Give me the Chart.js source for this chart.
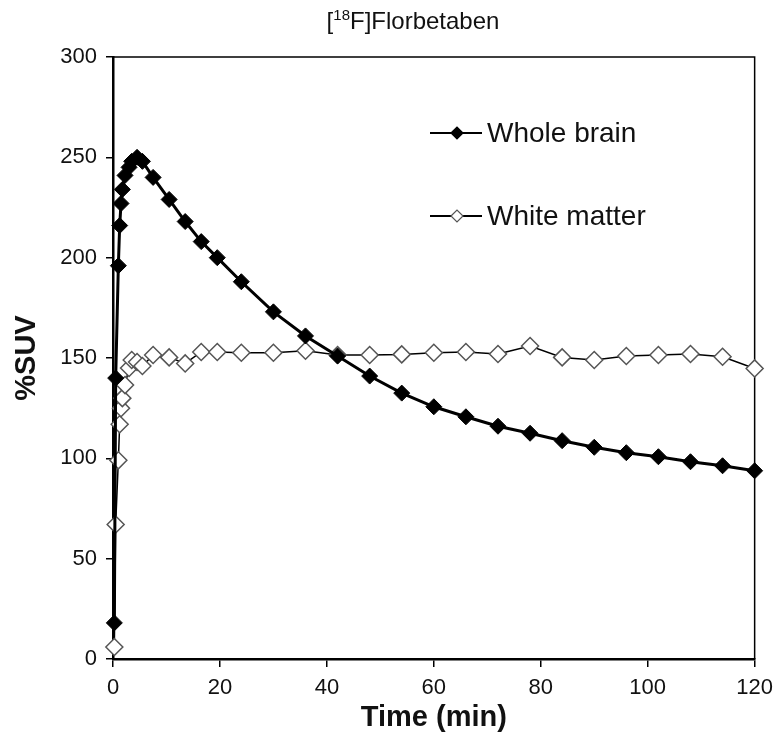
<!DOCTYPE html>
<html>
<head>
<meta charset="utf-8">
<title>[18F]Florbetaben</title>
<script src="https://cdn.jsdelivr.net/npm/chart.js@4.4.1/dist/chart.umd.min.js"></script>
<style>
  html, body { margin: 0; padding: 0; background: #fff; }
  #wrap { width: 781px; height: 747px; position: relative; }
</style>
</head>
<body>
<div id="wrap"><canvas id="chart-suv"></canvas></div>
<script>
// frame mid times (min)
const times = [0.25, 0.5, 1.0, 1.25, 1.5, 1.75, 2.25, 3.0, 3.5, 4.5, 5.5, 7.5, 10.5, 13.5, 16.5, 19.5,
    24, 30, 36, 42, 48, 54, 60, 66, 72, 78, 84, 90, 96, 102, 108, 114, 120];

const wholeBrain = [18, 140, 196, 216, 227, 234, 241, 245, 248, 250, 248, 240, 229, 218, 208, 200,
    188, 173, 161, 151, 141, 132.5, 125.7, 120.7, 116, 112.5, 108.8, 105.5, 102.8, 100.8, 98.3, 96.3, 93.8];

const whiteMatter = [6, 67, 99, 117, 125, 130, 136.5, 145, 149, 148, 146, 151.5, 150.3, 147.3, 153, 153,
    152.6, 152.6, 153.6, 151.5, 151.5, 151.8, 152.6, 153, 152, 156, 150.3, 149, 151, 151.5, 152, 150.6, 144.8];

const seriesNames = ['Whole brain', 'White matter'];
const xTicks = [0, 20, 40, 60, 80, 100, 120];
const yTicks = [0, 50, 100, 150, 200, 250, 300];

const FONT = "'Liberation Sans', Arial, sans-serif";

function toPoints(values) {
    return values.map((v, i) => ({ x: times[i], y: v }));
}

function diamond(ctx, x, y, r) {
    ctx.beginPath();
    ctx.moveTo(x - r, y);
    ctx.lineTo(x, y - r);
    ctx.lineTo(x + r, y);
    ctx.lineTo(x, y + r);
    ctx.closePath();
}

// frame, title and in-plot legend
const decorations = {
    id: 'decorations',
    beforeDatasetsDraw(chart) {
        const ctx = chart.ctx;
        const a = chart.chartArea;
        ctx.save();
        // top and right frame
        ctx.strokeStyle = '#000';
        ctx.lineWidth = 1.5;
        ctx.beginPath();
        ctx.moveTo(a.left, a.top);
        ctx.lineTo(a.right, a.top);
        ctx.lineTo(a.right, a.bottom);
        ctx.stroke();
        ctx.restore();
    },
    afterDraw(chart) {
        const ctx = chart.ctx;
        ctx.save();

        // title with superscript
        ctx.fillStyle = '#111';
        ctx.textBaseline = 'alphabetic';
        const big = '24px ' + FONT, small = '15px ' + FONT;
        const parts = [['[', big, 0], ['18', small, -9], ['F]Florbetaben', big, 0]];
        let total = 0;
        parts.forEach(p => { ctx.font = p[1]; total += ctx.measureText(p[0]).width; });
        let x = 413 - total / 2;
        parts.forEach(p => {
            ctx.font = p[1];
            ctx.textAlign = 'left';
            ctx.fillText(p[0], x, 29 + p[2]);
            x += ctx.measureText(p[0]).width;
        });

        // legend
        const rows = [
            { y: 133, fill: '#000', stroke: '#000' },
            { y: 216, fill: '#fff', stroke: '#555' }
        ];
        rows.forEach((r, i) => {
            ctx.strokeStyle = '#000';
            ctx.lineWidth = 2;
            ctx.beginPath();
            ctx.moveTo(430, r.y);
            ctx.lineTo(482, r.y);
            ctx.stroke();
            diamond(ctx, 457, r.y, 6);
            ctx.fillStyle = r.fill;
            ctx.fill();
            ctx.strokeStyle = r.stroke;
            ctx.lineWidth = 1.2;
            ctx.stroke();
            ctx.fillStyle = '#111';
            ctx.font = '28px ' + FONT;
            ctx.textAlign = 'left';
            ctx.textBaseline = 'middle';
            ctx.fillText(seriesNames[i], 487, r.y + 1);
        });
        ctx.restore();
    }
};

new Chart(document.getElementById('chart-suv'), {
    type: 'line',
    data: {
        datasets: [
            {
                label: seriesNames[0],
                data: toPoints(wholeBrain),
                borderColor: '#000',
                borderWidth: 3,
                pointStyle: 'rectRot',
                pointRadius: 8,
                pointBackgroundColor: '#000',
                pointBorderColor: '#000',
                pointBorderWidth: 1,
                tension: 0,
                clip: false
            },
            {
                label: seriesNames[1],
                data: toPoints(whiteMatter),
                borderColor: '#000',
                borderWidth: 1.5,
                pointStyle: 'rectRot',
                pointRadius: 8.5,
                pointBackgroundColor: '#fff',
                pointBorderColor: '#555',
                pointBorderWidth: 1.5,
                tension: 0,
                clip: false
            }
        ]
    },
    options: {
        responsive: true,
        maintainAspectRatio: false,
        animation: false,
        layout: { padding: { top: 57, right: 24, left: 0, bottom: 0 } },
        scales: {
            x: {
                type: 'linear',
                min: 0,
                max: 120,
                afterBuildTicks: s => { s.ticks = xTicks.map(v => ({ value: v })); },
                afterFit: s => { s.height = 88; },
                border: { display: true, color: '#000', width: 2.5 },
                grid: { drawOnChartArea: false, drawTicks: true, tickLength: 8, color: '#000', lineWidth: 1.5 },
                ticks: { color: '#111', font: { family: FONT, size: 22 }, padding: 8, maxRotation: 0 },
                title: {
                    display: true,
                    text: 'Time (min)',
                    color: '#111',
                    font: { family: FONT, size: 29, weight: 'bold' },
                    padding: { top: 0, bottom: 12 }
                }
            },
            y: {
                type: 'linear',
                min: 0,
                max: 300,
                afterBuildTicks: s => { s.ticks = yTicks.map(v => ({ value: v })); },
                afterFit: s => { s.width = 113; },
                border: { display: true, color: '#000', width: 2.5 },
                grid: { drawOnChartArea: false, drawTicks: true, tickLength: 7, color: '#000', lineWidth: 1.5 },
                ticks: { color: '#111', font: { family: FONT, size: 22 }, padding: 9 },
                title: {
                    display: true,
                    text: '%SUV',
                    color: '#111',
                    font: { family: FONT, size: 29, weight: 'bold' },
                    padding: { top: 10, bottom: 0 }
                }
            }
        },
        plugins: {
            legend: { display: false },
            tooltip: { enabled: false },
            title: { display: false }
        }
    },
    plugins: [decorations]
});
</script>
</body>
</html>
